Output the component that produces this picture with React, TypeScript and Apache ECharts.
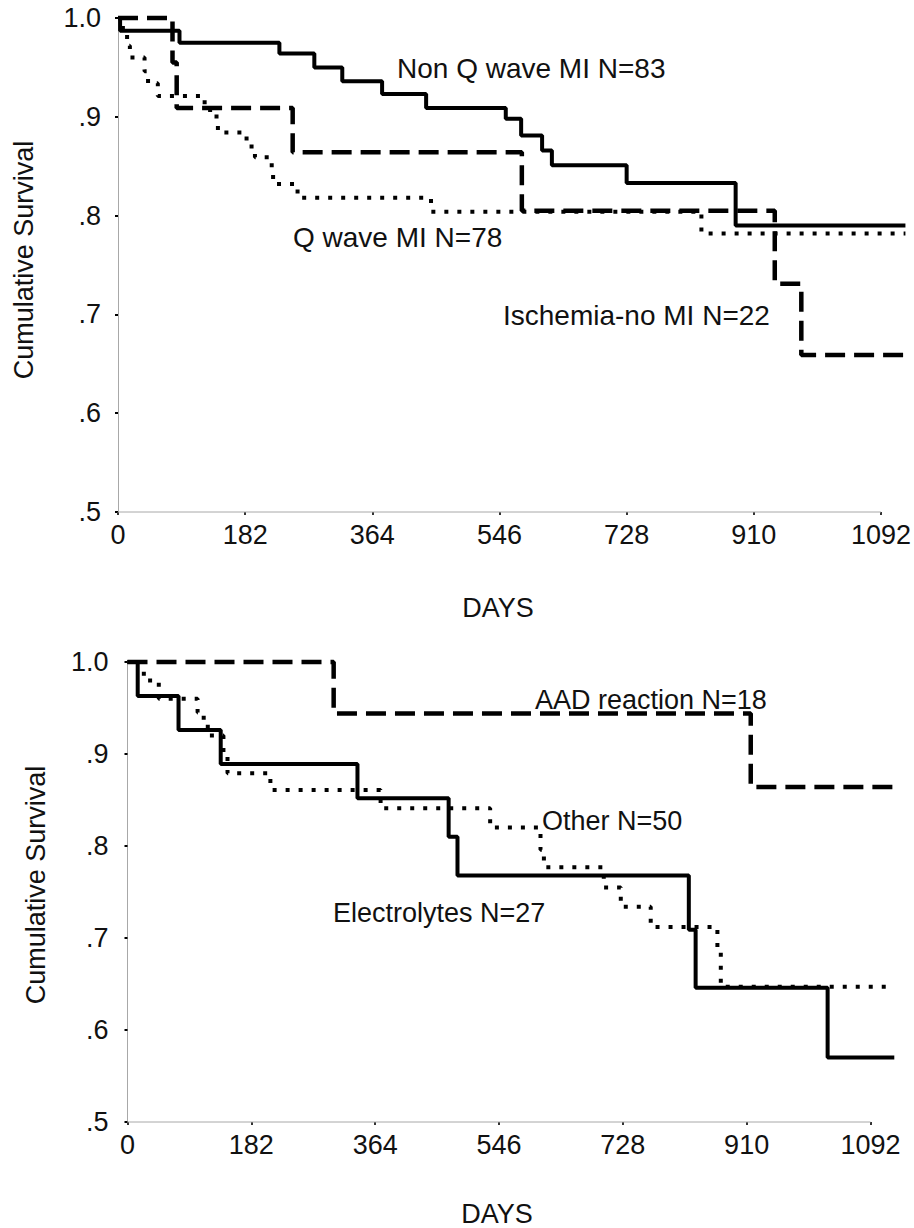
import React, { useEffect, useRef } from "react";
import * as echarts from "echarts";

// ---- Data ----
const X_TICKS = [0, 182, 364, 546, 728, 910, 1092];
const Y_TICK_VALUES = [0.5, 0.6, 0.7, 0.8, 0.9, 1.0];
const Y_TICK_LABELS = [".5", ".6", ".7", ".8", ".9", "1.0"];
const AXIS_BASE_DAYS = [0, 1092];
const X_MAX = 1127;

// Top panel
const NONQ_DAYS = [0, 3, 88, 231, 281, 321, 378, 441, 555, 577, 607, 621, 728, 884, 1127];
const NONQ_SURV = [1.0, 0.987, 0.975, 0.964, 0.95, 0.936, 0.923, 0.909, 0.898, 0.881, 0.866, 0.851, 0.833, 0.79, 0.79];

const QW_DAYS = [0, 7, 13, 17, 38, 43, 57, 124, 141, 143, 184, 196, 220, 222, 257, 448, 835, 1127];
const QW_SURV = [1.0, 0.984, 0.972, 0.96, 0.946, 0.934, 0.921, 0.907, 0.896, 0.884, 0.87, 0.859, 0.844, 0.832, 0.818, 0.804, 0.782, 0.782];

const ISCH_DAYS = [0, 78, 84, 250, 578, 940, 978, 1127];
const ISCH_SURV = [1.0, 0.955, 0.909, 0.864, 0.805, 0.731, 0.659, 0.659];

// Bottom panel
const AAD_DAYS = [0, 303, 916, 1127];
const AAD_SURV = [1.0, 0.944, 0.864, 0.864];

const ELEC_DAYS = [0, 15, 75, 137, 338, 472, 485, 825, 835, 1029, 1127];
const ELEC_SURV = [1.0, 0.963, 0.926, 0.889, 0.852, 0.81, 0.768, 0.709, 0.646, 0.57, 0.57];

const OTHER_DAYS = [0, 24, 46, 103, 112, 118, 141, 147, 210, 372, 533, 607, 612, 700, 725, 769, 867, 872, 1127];
const OTHER_SURV = [1.0, 0.98, 0.96, 0.945, 0.937, 0.92, 0.898, 0.879, 0.861, 0.841, 0.82, 0.796, 0.777, 0.755, 0.734, 0.712, 0.688, 0.647, 0.647];

const LABELS_TOP = ["Non Q wave MI N=83", "Q wave MI N=78", "Ischemia-no MI N=22"];
const LABELS_BOTTOM = ["AAD reaction N=18", "Other N=50", "Electrolytes N=27"];
const Y_NAME = "Cumulative Survival";
const X_NAME = "DAYS";

const FONT = "'Liberation Sans', Arial, Helvetica, sans-serif";

const zip = (xs: number[], ys: number[]) => xs.map((x, i) => [x, ys[i]]);

const SOLID = { color: "#000", width: 4, type: "solid" as const };
const DASHED = { color: "#000", width: 4.5, type: [20, 9], cap: "butt" };
const DOTTED = { color: "#000", width: 4, type: [4, 9], cap: "butt" };

function kmSeries(name: string, idx: number, days: number[], surv: number[], lineStyle: any, z: number) {
  return {
    name,
    type: "line",
    xAxisIndex: idx,
    yAxisIndex: idx,
    data: zip(days, surv),
    step: "end",
    symbol: "none",
    clip: false,
    silent: true,
    z,
    lineStyle,
  };
}

function baseSeries(idx: number) {
  return {
    type: "line",
    xAxisIndex: idx,
    yAxisIndex: idx,
    data: AXIS_BASE_DAYS.map((d) => [d, Y_TICK_VALUES[0]]),
    symbol: "none",
    silent: true,
    clip: false,
    z: 1,
    lineStyle: { color: "#a8a8a8", width: 1 },
  };
}

const xFmt = (v: number) => (X_TICKS.indexOf(v) >= 0 ? String(v) : "");
const yFmt = (v: number) => {
  const i = Y_TICK_VALUES.findIndex((t) => Math.abs(t - v) < 1e-6);
  return i >= 0 ? Y_TICK_LABELS[i] : "";
};

function xAxis(idx: number) {
  return {
    type: "value",
    gridIndex: idx,
    min: 0,
    max: X_MAX,
    interval: 182,
    splitLine: { show: false },
    axisLine: { show: false },
    axisTick: {
      show: true,
      customValues: X_TICKS,
      length: 3,
      lineStyle: { color: "#333", width: 2 },
    },
    axisLabel: {
      customValues: X_TICKS,
      formatter: xFmt,
      margin: 9,
      color: "#111",
      fontSize: 27,
      fontFamily: FONT,
    },
  };
}

function yAxis(idx: number, margin: number) {
  return {
    type: "value",
    gridIndex: idx,
    min: 0.5,
    max: 1.0,
    interval: 0.1,
    splitLine: { show: false },
    axisLine: { show: true, lineStyle: { color: "#a8a8a8", width: 1 } },
    axisTick: {
      show: true,
      customValues: Y_TICK_VALUES,
      length: 3,
      lineStyle: { color: "#000", width: 2 },
    },
    axisLabel: {
      customValues: Y_TICK_VALUES,
      formatter: yFmt,
      margin,
      color: "#111",
      fontSize: 27,
      fontFamily: FONT,
    },
  };
}

function txt(text: string, x: number, y: number, size: number, align = "left", rotation = 0) {
  return {
    type: "text",
    x,
    y,
    rotation,
    silent: true,
    style: {
      text,
      fill: "#111",
      font: `${size}px ${FONT}`,
      textAlign: align,
      textVerticalAlign: "middle",
    },
  };
}

export default function App() {
  const ref = useRef<HTMLDivElement>(null);
  useEffect(() => {
    document.body.style.margin = "0";
    const chart = echarts.init(ref.current!, null, { renderer: "svg" });
    chart.setOption({
      animation: false,
      backgroundColor: "#fff",
      grid: [
        { left: 118, top: 18, width: 789.5, height: 494 },
        { left: 127.5, top: 662, width: 766.8, height: 460 },
      ],
      xAxis: [xAxis(0), xAxis(1)],
      yAxis: [yAxis(0, 17), yAxis(1, 19)],
      series: [
        baseSeries(0),
        baseSeries(1),
        kmSeries(LABELS_TOP[2], 0, ISCH_DAYS, ISCH_SURV, DASHED, 3),
        kmSeries(LABELS_TOP[1], 0, QW_DAYS, QW_SURV, DOTTED, 4),
        kmSeries(LABELS_TOP[0], 0, NONQ_DAYS, NONQ_SURV, SOLID, 5),
        kmSeries(LABELS_BOTTOM[0], 1, AAD_DAYS, AAD_SURV, DASHED, 3),
        kmSeries(LABELS_BOTTOM[2], 1, ELEC_DAYS, ELEC_SURV, SOLID, 4),
        kmSeries(LABELS_BOTTOM[1], 1, OTHER_DAYS, OTHER_SURV, DOTTED, 5),
      ],
      graphic: [
        txt(LABELS_TOP[0], 397, 68, 28),
        txt(LABELS_TOP[1], 293, 237, 28),
        txt(LABELS_TOP[2], 503, 315, 28),
        txt(LABELS_BOTTOM[0], 535, 700, 27),
        txt(LABELS_BOTTOM[1], 542, 821, 27),
        txt(LABELS_BOTTOM[2], 333, 913, 27),
        txt(X_NAME, 498, 608, 27, "center"),
        txt(X_NAME, 497, 1214, 27, "center"),
        txt(Y_NAME, 24, 260, 27, "center", Math.PI / 2),
        txt(Y_NAME, 36, 885, 27, "center", Math.PI / 2),
      ],
    });
    return () => chart.dispose();
  }, []);
  return (
    <div
      ref={ref}
      style={{ position: "fixed", left: 0, top: 0, width: 914, height: 1228, background: "#fff" }}
    />
  );
}
